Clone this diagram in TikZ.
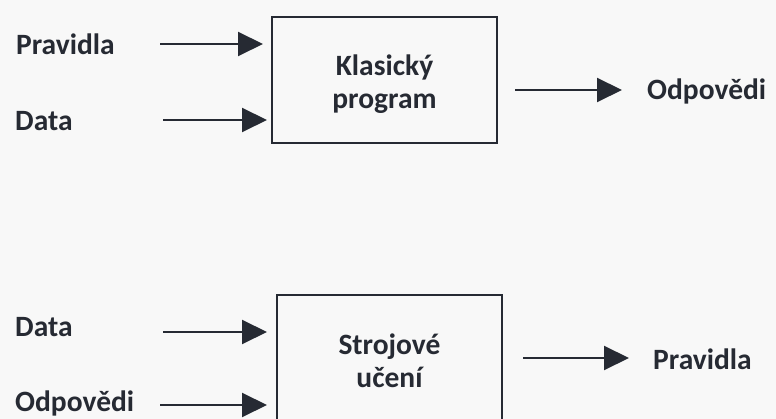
\documentclass[tikz,border=0pt]{standalone}
\usepackage{fontspec}
\setmainfont{Carlito}
\usetikzlibrary{arrows.meta}
\definecolor{ink}{HTML}{262A33}
\definecolor{paper}{HTML}{F8F8F8}
\tikzset{
  lbl/.style={font=\bfseries\fontsize{29.5}{33}\selectfont, text=ink, inner sep=0pt, anchor=west},
  boxn/.style={draw=ink, line width=1.6pt, minimum width=225pt, minimum height=126pt, inner sep=0pt},
  boxt/.style={align=center, font=\bfseries\fontsize{29.5}{33}\selectfont, text=ink, inner sep=0pt},
  arr/.style={draw=ink, line width=2pt, -{Triangle[length=25pt,width=24pt]}}
}
\begin{document}
\begin{tikzpicture}[x=1pt,y=-1pt]
\useasboundingbox (0,0) rectangle (776,419);
\fill[paper] (0,0) rectangle (776,419);
\clip (0,0) rectangle (776,419);
% top
\node[boxn] (b1) at (384.5,80) {};
\node[boxt] (t1) at (384.5,84) {Klasický\\program};
\node[lbl] (p1) at (16,44) {Pravidla};
\node[lbl] (d1) at (15,121) {Data};
\node[lbl] (o1) at (647,91) {Odpovědi};
\coordinate (s1) at (160,44);
\coordinate (s2) at (163,120);
\coordinate (e1) at (263,44);
\coordinate (e2) at (267,120);
\coordinate (s3) at (515,90);
\draw[arr] (s1) -- (e1);
\draw[arr] (s2) -- (e2);
\draw[arr, shorten >=25pt] (s3) -- (o1.west |- s3);
% bottom
\node[boxn] (b2) at (389.5,358) {};
\node[boxt] (t2) at (389.5,361) {Strojové\\učení};
\node[lbl] (d2) at (15,327) {Data};
\node[lbl] (o2) at (15,403) {Odpovědi};
\node[lbl] (p2) at (653,359) {Pravidla};
\coordinate (s4) at (163,332);
\coordinate (s5) at (160,405);
\coordinate (e4) at (267,332);
\coordinate (e5) at (267,405);
\coordinate (s6) at (523,358);
\draw[arr] (s4) -- (e4);
\draw[arr] (s5) -- (e5);
\draw[arr, shorten >=24pt] (s6) -- (p2.west |- s6);
\end{tikzpicture}
\end{document}
